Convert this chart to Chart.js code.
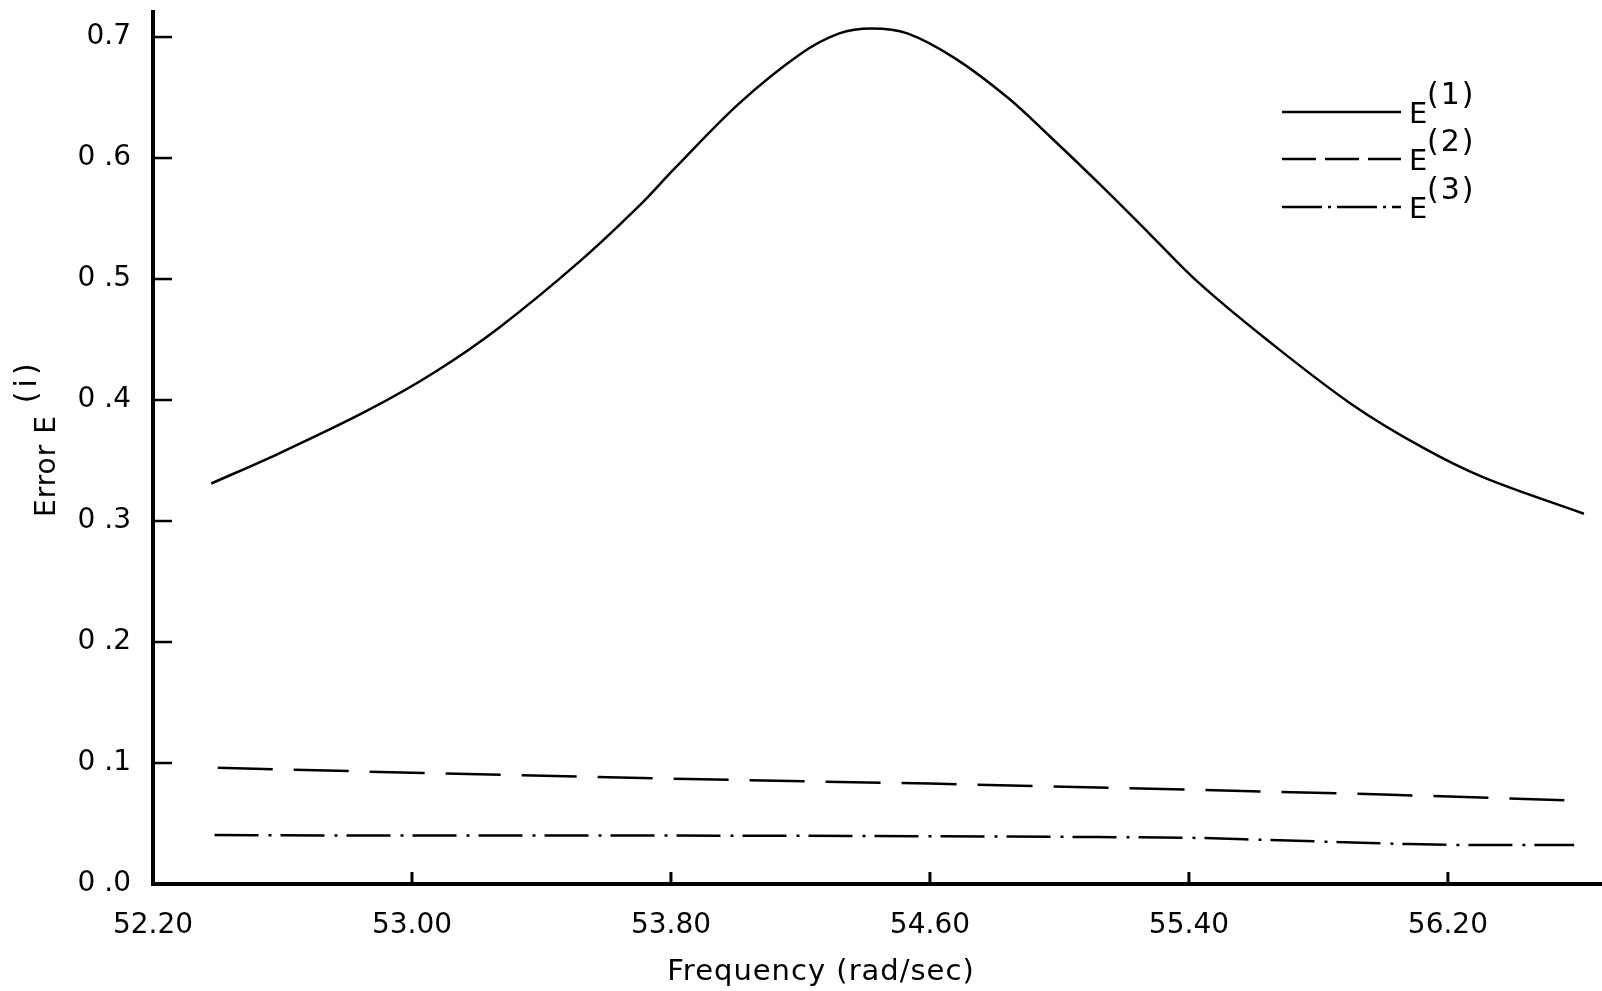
<!DOCTYPE html>
<html>
<head>
<meta charset="utf-8">
<script src="https://cdn.jsdelivr.net/npm/chart.js@4.4.1/dist/chart.umd.min.js"></script>
<style>
    html, body { margin: 0; padding: 0; background: #fff; }
    #wrap { width: 1602px; height: 991px; }
</style>
</head>
<body>
<div id="wrap"><canvas id="errChart" width="1602" height="991"></canvas></div>
<script>
// values
const freq1 = [52.38, 52.59, 52.86, 53.07, 53.27, 53.52, 53.70, 53.81, 54.01, 54.20, 54.32, 54.42, 54.53, 54.68, 54.84, 54.97, 55.13, 55.28, 55.43, 55.64, 55.90, 56.12, 56.31, 56.62];
const err1  = [0.331, 0.356, 0.391, 0.423, 0.460, 0.515, 0.560, 0.591, 0.645, 0.686, 0.703, 0.707, 0.703, 0.682, 0.650, 0.618, 0.577, 0.537, 0.497, 0.450, 0.397, 0.361, 0.336, 0.306];

const freq2 = [52.40, 53.00, 53.80, 54.60, 55.40, 56.00, 56.59];
const err2  = [0.096, 0.092, 0.087, 0.083, 0.078, 0.074, 0.069];

const freq3 = [52.39, 53.00, 53.80, 54.60, 55.12, 55.44, 55.64, 55.86, 56.08, 56.31, 56.59];
const err3  = [0.0405, 0.040, 0.040, 0.0395, 0.0388, 0.038, 0.0364, 0.0347, 0.033, 0.0322, 0.0322];

const seriesTags = ["(1)", "(2)", "(3)"];

const xTicks = [52.2, 53.0, 53.8, 54.6, 55.4, 56.2];
const xTickLabels = ["52.20", "53.00", "53.80", "54.60", "55.40", "56.20"];
const yTicks = [0, 0.1, 0.2, 0.3, 0.4, 0.5, 0.6, 0.7];
const yTickLabels = ["0 .0", "0 .1", "0 .2", "0 .3", "0 .4", "0 .5", "0 .6", "0.7"];

const FONT = '"DejaVu Sans", "Liberation Sans", sans-serif';

function toPoints(xs, ys) {
    return xs.map((x, i) => ({ x: x, y: ys[i] }));
}

// tick marks point into the plot, so draw them by hand
const inwardTicks = {
    id: "inwardTicks",
    afterDraw(chart) {
        const ctx = chart.ctx;
        const xs = chart.scales.x, ys = chart.scales.y;
        const area = chart.chartArea;
        ctx.save();
        ctx.strokeStyle = "#000";
        ctx.lineWidth = 2.5;
        yTicks.forEach(v => {
            if (v === 0) return;
            const py = ys.getPixelForValue(v);
            ctx.beginPath();
            ctx.moveTo(area.left, py);
            ctx.lineTo(area.left + 19, py);
            ctx.stroke();
        });
        ctx.lineWidth = 3;
        xTicks.forEach((v, i) => {
            if (i === 0) return;
            const px = xs.getPixelForValue(v);
            ctx.beginPath();
            ctx.moveTo(px, area.bottom);
            ctx.lineTo(px, area.bottom - 12);
            ctx.stroke();
        });
        ctx.restore();
    }
};

const legendDash = [[], [34, 9], [40, 6, 3, 6]];

const eLegend = {
    id: "eLegend",
    afterDraw(chart) {
        const ctx = chart.ctx;
        const rows = [112, 159, 207];
        ctx.save();
        ctx.strokeStyle = "#000";
        ctx.fillStyle = "#000";
        ctx.lineWidth = 2.5;
        ctx.textBaseline = "alphabetic";
        rows.forEach((y, i) => {
            ctx.setLineDash(legendDash[i]);
            ctx.beginPath();
            ctx.moveTo(1282, y);
            ctx.lineTo(1401, y);
            ctx.stroke();
            ctx.setLineDash([]);
            ctx.font = "29px " + FONT;
            ctx.fillText("E", 1409, y + 11);
            ctx.font = "30px " + FONT;
            ctx.letterSpacing = "2px";
            ctx.fillText(seriesTags[i], 1427, y - 8);
            ctx.letterSpacing = "0px";
        });
        ctx.restore();
    }
};

const axisTitles = {
    id: "axisTitles",
    afterDraw(chart) {
        const ctx = chart.ctx;
        ctx.save();
        ctx.fillStyle = "#000";
        ctx.font = "29px " + FONT;
        ctx.letterSpacing = "1px";
        ctx.textAlign = "center";
        ctx.textBaseline = "alphabetic";
        ctx.fillText("Frequency (rad/sec)", 821, 980);

        ctx.translate(55, 517);
        ctx.rotate(-Math.PI / 2);
        ctx.textAlign = "left";
        ctx.font = "28px " + FONT;
        ctx.fillText("Error E", 0, 0);
        const w = ctx.measureText("Error E").width;
        ctx.font = "30px " + FONT;
        ctx.letterSpacing = "4px";
        ctx.fillText("(i)", w + 12, -19);
        ctx.restore();
    }
};

const ctx = document.getElementById("errChart").getContext("2d");
const errChart = new Chart(ctx, {
    type: "line",
    data: {
        datasets: [
            {
                label: "E(1)",
                data: toPoints(freq1, err1),
                borderColor: "#000",
                borderWidth: 2.5,
                pointRadius: 0,
                tension: 0.35,
                fill: false
            },
            {
                label: "E(2)",
                data: toPoints(freq2, err2),
                borderColor: "#000",
                borderWidth: 2.5,
                borderDash: [55, 21],
                pointRadius: 0,
                tension: 0,
                fill: false
            },
            {
                label: "E(3)",
                data: toPoints(freq3, err3),
                borderColor: "#000",
                borderWidth: 2.5,
                borderDash: [44, 10, 3, 9],
                pointRadius: 0,
                cubicInterpolationMode: "monotone",
                fill: false
            }
        ]
    },
    options: {
        responsive: false,
        animation: false,
        devicePixelRatio: 1,
        layout: { padding: { top: 12, right: 0, left: 0, bottom: 0 } },
        plugins: {
            legend: { display: false },
            tooltip: { enabled: false }
        },
        scales: {
            x: {
                type: "linear",
                min: 52.2,
                max: 56.676,
                afterBuildTicks: scale => { scale.ticks = xTicks.map(v => ({ value: v })); },
                afterFit: scale => {
                    scale.height = 107;
                    scale.paddingLeft = 0;
                    scale.paddingRight = 0;
                },
                grid: { display: false, drawTicks: false },
                border: { display: true, color: "#000", width: 4 },
                ticks: {
                    color: "#000",
                    padding: 25,
                    maxRotation: 0,
                    autoSkip: false,
                    font: { family: FONT, size: 28 },
                    callback: (v, i) => xTickLabels[i]
                }
            },
            y: {
                type: "linear",
                min: 0,
                max: 0.7207,
                afterBuildTicks: scale => { scale.ticks = yTicks.map(v => ({ value: v })); },
                afterFit: scale => {
                    scale.width = 153;
                    scale.paddingTop = 0;
                    scale.paddingBottom = 0;
                },
                grid: { display: false, drawTicks: false },
                border: { display: true, color: "#000", width: 4 },
                ticks: {
                    color: "#000",
                    padding: 22,
                    autoSkip: false,
                    font: { family: FONT, size: 28 },
                    callback: (v, i) => yTickLabels[i]
                }
            }
        }
    },
    plugins: [inwardTicks, eLegend, axisTitles]
});
</script>
</body>
</html>
